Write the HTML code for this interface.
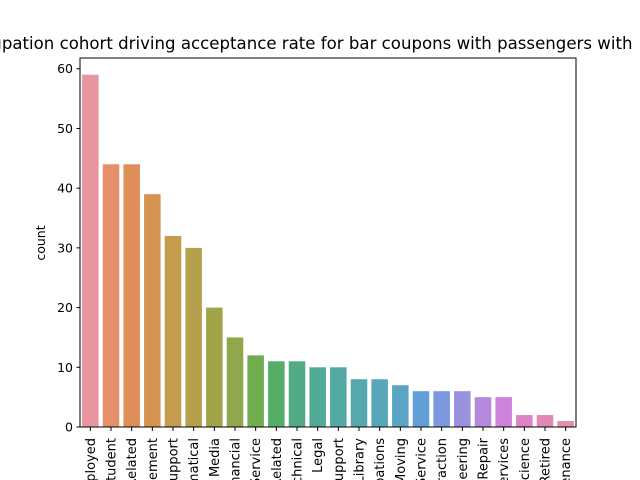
<!DOCTYPE html>
<html><head><meta charset="utf-8"><style>
html,body{margin:0;padding:0;background:#fff;overflow:hidden;width:640px;height:480px;}
svg{display:block;font-family:"DejaVu Sans","Liberation Sans",sans-serif;overflow:hidden;}
</style></head><body>
<svg id="chart" width="640" height="480" viewBox="0 0 640 480">
<defs><clipPath id="frame"><rect x="0" y="0" width="640" height="480"/></clipPath></defs>
<g clip-path="url(#frame)">
<text x="-40" y="49" font-size="16.6" text-anchor="start">Occupation cohort driving acceptance rate for bar coupons with passengers with</text>
<g id="bars"></g>
<g id="yticks"></g>
<g id="xticks"></g>
<rect x="80" y="58" width="496" height="369" fill="none" stroke="#000" stroke-width="1"/>
<text transform="translate(45,243) rotate(-90)" font-size="12.5" text-anchor="middle">count</text>
</g>
</svg>
<script>
const categories = ["Unemployed","Student","Computer & Mathematical Related","Management","Office & Administrative Support","Computer & Mathematical","Arts Design Entertainment Sports & Media","Business & Financial","Protective Service","Food Preparation & Serving Related","Healthcare Practitioners & Technical","Legal","Healthcare Support","Education&Training&Library","Production Occupations","Transportation & Material Moving","Personal Care & Service","Construction & Extraction","Architecture & Engineering","Installation Maintenance & Repair","Community & Social Services","Life Physical Social Science","Retired","Building & Grounds Cleaning & Maintenance"];
const counts = [59,44,44,39,32,30,20,15,12,11,11,10,10,8,8,7,6,6,6,5,5,2,2,1];
const yTickValues = [0,10,20,30,40,50,60];
const colors = ["#e8959f","#e5906a","#df8e58","#d6934f","#c59b4c","#b5a04b","#a3a44a","#90a84b","#6fad4e","#55ae68","#53ab86","#53aa96","#54a9a2","#56a8ad","#58a7b8","#5aa4c6","#629fd7","#7d98de","#9a91df","#b48ade","#cd82dc","#dc84c6","#e188b4","#e68ea6"];
const NS="http://www.w3.org/2000/svg";
const L=80,R=576,T=58,B=427,yMax=61.8;
const y=v=>B-v/yMax*(B-T);
const band=(R-L)/categories.length;
const x=i=>L+i*band;
const bars=document.getElementById('bars'),yt=document.getElementById('yticks'),xt=document.getElementById('xticks');
counts.forEach((c,i)=>{
 const r=document.createElementNS(NS,'rect');
 r.setAttribute('x',x(i)+band*0.1);r.setAttribute('width',band*0.8);
 r.setAttribute('y',y(c));r.setAttribute('height',B-y(c));r.setAttribute('fill',colors[i%colors.length]);
 
 
 bars.appendChild(r);
});
categories.forEach((c,i)=>{
 const cx=x(i)+band/2;
 const tk=document.createElementNS(NS,'line');
 tk.setAttribute('x1',cx);tk.setAttribute('x2',cx);tk.setAttribute('y1',B);tk.setAttribute('y2',B+4);tk.setAttribute('stroke','#000');
 
 
 xt.appendChild(tk);
 const t=document.createElementNS(NS,'text');
 t.setAttribute('transform','translate('+(cx+4.5)+','+(B+11)+') rotate(-90)');
 t.setAttribute('font-size','13');t.setAttribute('text-anchor','end');
 t.textContent=c;
 
 
 xt.appendChild(t);
});
yTickValues.forEach(v=>{
 const tk=document.createElementNS(NS,'line');
 tk.setAttribute('x1',L-3.5);tk.setAttribute('x2',L);tk.setAttribute('y1',y(v));tk.setAttribute('y2',y(v));tk.setAttribute('stroke','#000');
 
 
 yt.appendChild(tk);
 const t=document.createElementNS(NS,'text');
 t.setAttribute('x',L-7);t.setAttribute('y',y(v)+4.5);t.setAttribute('font-size','12.5');t.setAttribute('text-anchor','end');
 t.textContent=v;
 
 
 yt.appendChild(t);
});
</script>
</body></html>
